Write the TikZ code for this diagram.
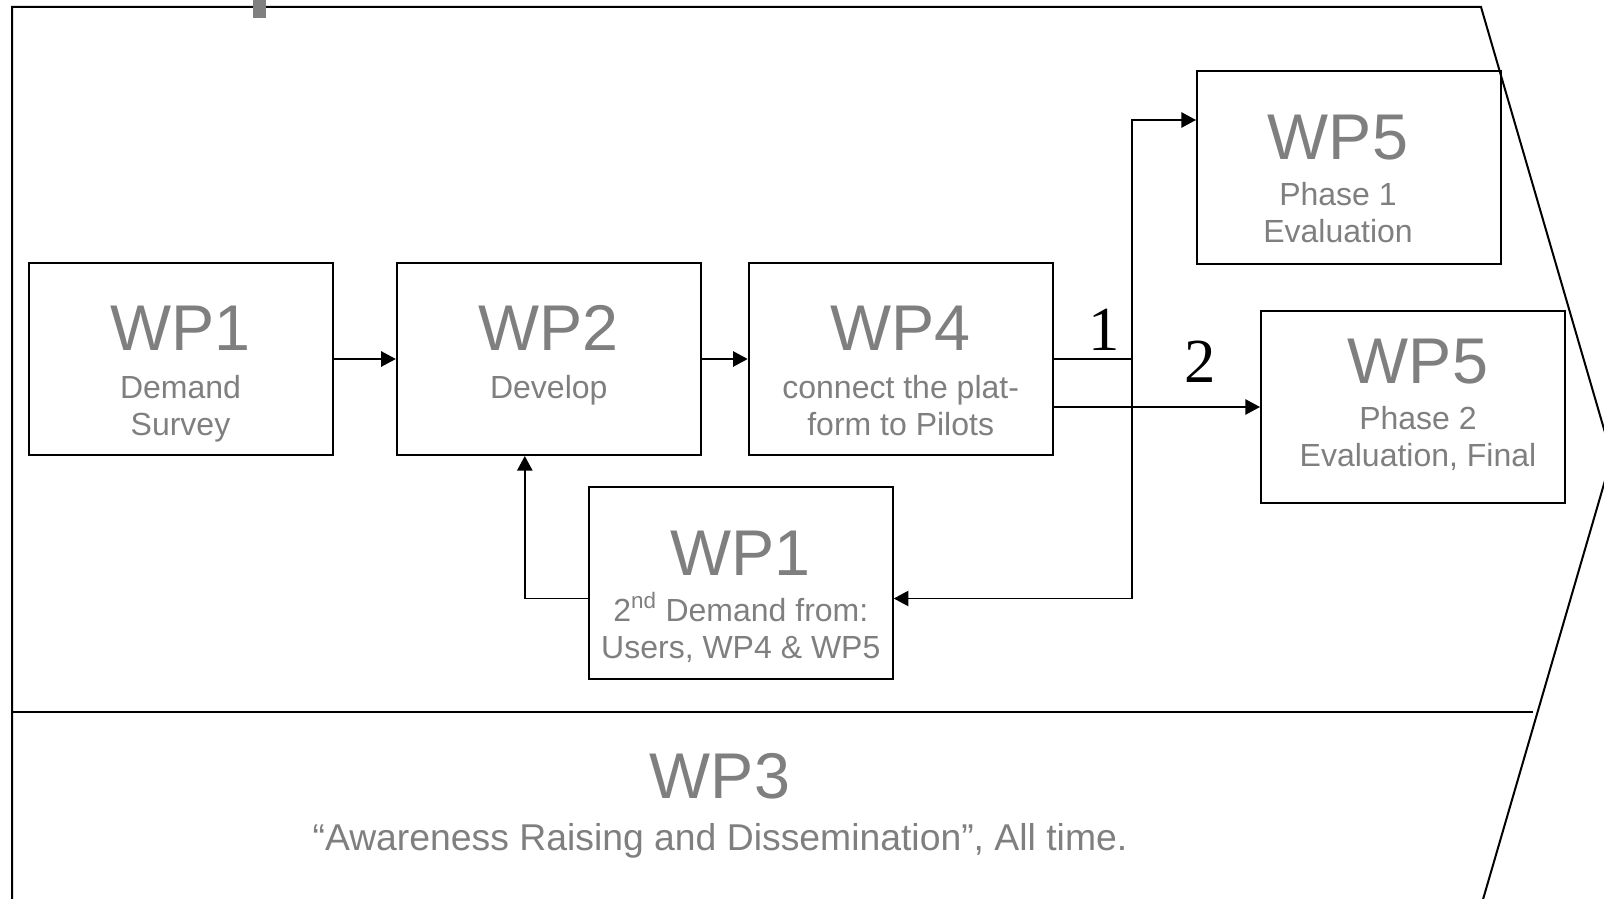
\documentclass[tikz,border=0pt]{standalone}
\usepackage{fontspec}
\setmainfont{Liberation Sans}
\newfontfamily\digitfont{Liberation Serif}
\usetikzlibrary{arrows.meta,calc}
\definecolor{txtgray}{RGB}{127,127,127}
\definecolor{markgray}{RGB}{128,128,128}
\begin{document}
\begin{tikzpicture}[x=0.75pt,y=-0.75pt,
  wpbox/.style={draw=black,line width=1.5pt,minimum width=304*0.75pt,minimum height=192*0.75pt,inner sep=0pt},
  bigtxt/.style={text=txtgray,font=\fontsize{48.5}{56}\selectfont,anchor=base,inner sep=0pt},
  subtxt/.style={text=txtgray,font=\fontsize{24}{28}\selectfont,anchor=base,inner sep=0pt},
  conn/.style={line width=1.25pt},
  arr/.style={conn,-{Triangle[length=11pt,width=11.5pt]}},
  numtxt/.style={font=\digitfont\fontsize{47}{54}\selectfont,anchor=base,inner sep=0pt}]
\useasboundingbox (0,0) rectangle (1604,899);
\clip (0,0) rectangle (1604,899);
% outline chevron
\draw[line width=1.5pt,line join=miter] (12,920) -- (12,7) -- (1481,7) -- (1612,456.5) -- (1477,920);
\draw[line width=1.5pt] (12,711.5) -- (1533,711.5);
\fill[markgray] (253,0) rectangle (266,18);
% boxes
\node[wpbox] (wp1) at (180.5,359) {};
\node[wpbox] (wp2) at (548.8,359) {};
\node[wpbox] (wp4) at (900.7,359) {};
\node[wpbox] (wp5a) at (1349,167.5) {};
\node[wpbox] (wp5b) at (1413,407) {};
\node[wpbox] (wp1b) at (740.8,583) {};
% texts
\node[bigtxt] (t1a) at (180.5,350) {WP1};
\node[subtxt] (t1b) at (180.5,398) {Demand};
\node[subtxt] (t1c) at (180.5,435) {Survey};
\node[bigtxt] (t2a) at (548.8,350) {WP2};
\node[subtxt] (t2b) at (548.8,398) {Develop};
\node[bigtxt] (t4a) at (900.7,350) {WP4};
\node[subtxt] (t4b) at (900.7,398) {connect the plat-};
\node[subtxt] (t4c) at (900.7,435) {form to Pilots};
\node[bigtxt] (t5a) at (1338,159) {WP5};
\node[subtxt] (t5b) at (1338,205) {Phase 1};
\node[subtxt] (t5c) at (1338,242) {Evaluation};
\node[bigtxt] (t6a) at (1418,383.3) {WP5};
\node[subtxt] (t6b) at (1418,429) {Phase 2};
\node[subtxt] (t6c) at (1418,466.5) {Evaluation, Final};
\node[bigtxt] (t7a) at (740.8,575) {WP1};
\node[subtxt] (t7b) at (740.8,621) {2\textsuperscript{nd} Demand from:};
\node[subtxt] (t7c) at (740.8,658) {Users, WP4 \& WP5};
\node[bigtxt] (t8a) at (720,798) {WP3};
\node[text=txtgray,font=\fontsize{28}{32}\selectfont,anchor=base,inner sep=0pt] (t8b) at (720,850) {“Awareness Raising and Dissemination”, All time.};
% numbers
\node[numtxt] (n1) at (1104,350.5) {1};
\node[numtxt] (n2) at (1200.5,382.5) {2};
% connectors
\coordinate (j) at (1132,359);
\coordinate (jtop) at (1132,120);
\coordinate (jbot) at (1132,598.5);
\coordinate (fb) at (524.8,598.5);
\draw[arr] (wp1.east) -- (wp2.west);
\draw[arr] (wp2.east) -- (wp4.west);
\draw[conn] (wp4.east) -- (j);
\draw[arr] (j) -- (jtop) -- (jtop -| wp5a.west);
\draw[arr] (j) -- (jbot) -- (jbot -| wp1b.east);
\draw[arr] (wp4.east |- 0,407) -- (wp5b.west |- 0,407);
\draw[arr] (fb -| wp1b.west) -- (fb) -- (fb |- wp2.south);
\end{tikzpicture}
\end{document}
